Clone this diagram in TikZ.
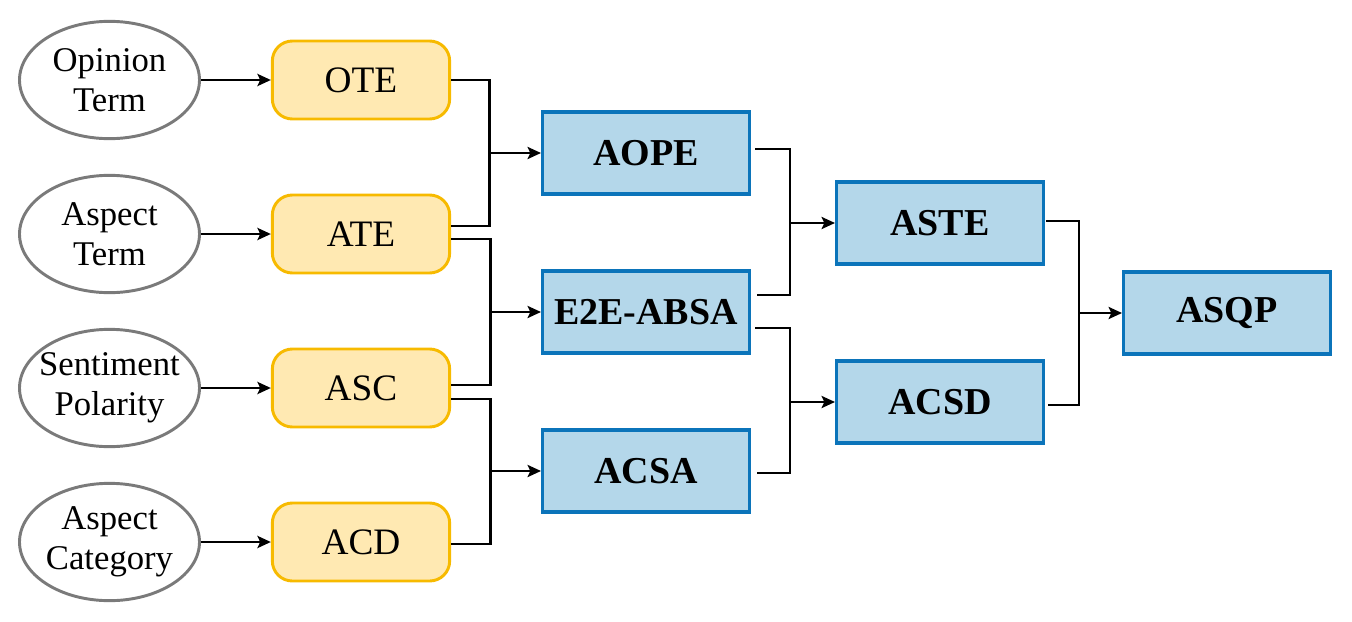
\documentclass[tikz,border=0pt]{standalone}
\usepackage{fontspec}
\setmainfont{Liberation Serif}
\usetikzlibrary{arrows.meta,shapes.geometric,calc}
\definecolor{ygfill}{HTML}{FFE9B2}
\definecolor{ygdraw}{HTML}{F7BA00}
\definecolor{blfill}{HTML}{B4D7EA}
\definecolor{bldraw}{HTML}{0B74BA}
\definecolor{elldraw}{HTML}{7A7A7A}
\begin{document}
\begin{tikzpicture}[x=0.75pt,y=-0.75pt,
  ell/.style={ellipse,draw=elldraw,line width=2.2pt,fill=white,minimum width=135pt,minimum height=88pt,inner sep=0pt},
  elltext/.style={align=center,inner sep=0pt,font=\fontsize{26}{30}\selectfont},
  ybox/.style={rectangle,rounded corners=15pt,draw=ygdraw,fill=ygfill,line width=2.2pt,minimum width=133pt,minimum height=58.5pt,font=\fontsize{28}{32}\selectfont},
  bbox/.style={rectangle,draw=bldraw,fill=blfill,line width=2.5pt,minimum width=155pt,minimum height=61.5pt,font=\fontsize{28.5}{32}\selectfont\bfseries},
  conn/.style={line width=2.2pt,black},
  arr/.style={line width=2.2pt,black,-{Stealth[length=10pt,width=9pt,inset=2pt]}}
]
\useasboundingbox (0,0) rectangle (1352,621);

% ellipses
\node[ell,label={[elltext]center:Opinion\\Term}] (e1) at (109.5,80) {};
\node[ell,label={[elltext]center:Aspect\\Term}] (e2) at (109.5,234) {};
\node[ell,label={[elltext]center:Sentiment\\Polarity}] (e3) at (109.5,388) {};
\node[ell,label={[elltext]center:Aspect\\Category}] (e4) at (109.5,542) {};

% yellow boxes
\node[ybox] (OTE) at (361,80) {OTE};
\node[ybox] (ATE) at (361,234) {ATE};
\node[ybox] (ASC) at (361,388) {ASC};
\node[ybox] (ACD) at (361,542) {ACD};

% blue boxes
\node[bbox] (AOPE) at (646,153) {AOPE};
\node[bbox] (E2E) at (646,312) {E2E-ABSA};
\node[bbox] (ACSA) at (646,471) {ACSA};
\node[bbox] (ASTE) at (940,223) {ASTE};
\node[bbox] (ACSD) at (940,402) {ACSD};
\node[bbox] (ASQP) at (1227,313) {ASQP};

% ellipse -> yellow
\draw[arr] (e1.east) -- (OTE.west);
\draw[arr] (e2.east) -- (ATE.west);
\draw[arr] (e3.east) -- (ASC.west);
\draw[arr] (e4.east) -- (ACD.west);

% junctions
\coordinate (j1) at (489,153);
\coordinate (j2) at (490,312);
\coordinate (j3) at (490,471);
\coordinate (j4) at (790,223);
\coordinate (j5) at (790,402);
\coordinate (j6) at (1079,313);

% yellow -> blue col 1
\draw[conn] (OTE.east) -| ($(ATE.east)+(38,-8)$) -- ($(ATE.east)+(0,-8)$);
\draw[arr] (j1) -- (AOPE.west);
\draw[conn] ($(ATE.east)+(0,5)$) -| ($(ASC.east)+(39,-3)$) -- ($(ASC.east)+(0,-3)$);
\draw[arr] (j2) -- (E2E.west);
\draw[conn] ($(ASC.east)+(0,11)$) -| ($(ACD.east)+(39,2)$) -- ($(ACD.east)+(0,2)$);
\draw[arr] (j3) -- (ACSA.west);

% blue col1 -> col2
\draw[conn] ($(AOPE.east)+(4,-4)$) -| ($(E2E.east)+(39,-17)$) -- ($(E2E.east)+(6,-17)$);
\draw[arr] (j4) -- (ASTE.west);
\draw[conn] ($(E2E.east)+(4,16)$) -| ($(ACSA.east)+(39,2)$) -- ($(ACSA.east)+(6,2)$);
\draw[arr] (j5) -- (ACSD.west);

% col2 -> ASQP
\draw[conn] ($(ASTE.east)+(1,-2)$) -| ($(ACSD.east)+(34,3)$) -- ($(ACSD.east)+(3,3)$);
\draw[arr] (j6) -- (ASQP.west);
\end{tikzpicture}
\end{document}
